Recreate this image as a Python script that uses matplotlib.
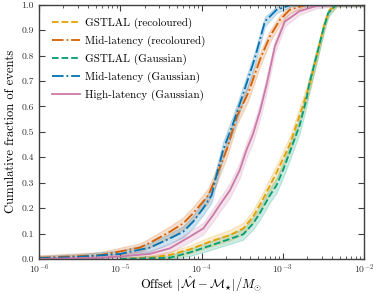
import numpy as np
import matplotlib
matplotlib.use("Agg")
import matplotlib.pyplot as plt

plt.rcParams.update({
    "font.family": "serif",
    "font.serif": ["cmr10", "DejaVu Serif"],
    "mathtext.fontset": "cm",
    "axes.formatter.use_mathtext": True,
    "axes.unicode_minus": False,
})

N_EVENTS = 380

# offsets (M_sun) and cumulative fractions
gstlal_rec_x = [1.0e-5, 2.32e-5, 4.08e-5, 7.2e-5, 1.27e-4, 2.24e-4, 3.26e-4, 4.32e-4, 5.23e-4, 6.03e-4,
                8.39e-4, 1.22e-3, 1.78e-3, 2.16e-3, 2.72e-3, 3.30e-3, 3.80e-3, 4.76e-3, 1.0e-2]
gstlal_rec_y = [0.0, 0.005, 0.016, 0.038, 0.068, 0.094, 0.12, 0.167, 0.213, 0.25,
                0.34, 0.45, 0.606, 0.69, 0.82, 0.93, 0.98, 1.0, 1.0]

mid_rec_x = [1.0e-6, 5.6e-6, 1.0e-5, 1.75e-5, 2.52e-5, 4.08e-5, 5.95e-5, 7.9e-5, 1.05e-4, 1.21e-4,
             1.55e-4, 2.04e-4, 2.72e-4, 3.75e-4, 5.23e-4, 6.94e-4, 9.2e-4, 1.22e-3, 1.96e-3, 1.0e-2]
mid_rec_y = [0.005, 0.015, 0.03, 0.045, 0.07, 0.107, 0.14, 0.18, 0.226, 0.25,
             0.33, 0.43, 0.56, 0.652, 0.783, 0.875, 0.94, 0.98, 1.0, 1.0]

gstlal_gau_x = [1.0e-5, 4.08e-5, 7.2e-5, 1.27e-4, 2.24e-4, 3.26e-4, 4.32e-4, 5.23e-4, 6.94e-4, 8.39e-4,
                1.01e-3, 1.22e-3, 1.62e-3, 1.96e-3, 2.11e-3, 2.60e-3, 3.14e-3, 3.62e-3, 4.59e-3, 1.0e-2]
gstlal_gau_y = [0.0, 0.005, 0.026, 0.052, 0.079, 0.097, 0.14, 0.18, 0.25, 0.29,
                0.35, 0.42, 0.527, 0.63, 0.685, 0.797, 0.9, 0.967, 1.0, 1.0]

mid_gau_x = [1.0e-6, 3.0e-6, 1.0e-5, 2.32e-5, 4.08e-5, 5.95e-5, 7.9e-5, 1.05e-4, 1.33e-4, 1.53e-4,
             1.85e-4, 2.43e-4, 3.26e-4, 4.54e-4, 6.03e-4, 8.39e-4, 1.29e-3, 1.0e-2]
mid_gau_y = [0.003, 0.008, 0.02, 0.045, 0.081, 0.107, 0.147, 0.2, 0.25, 0.33,
             0.43, 0.53, 0.65, 0.79, 0.934, 0.98, 1.0, 1.0]

high_gau_x = [1.0e-6, 5.6e-6, 1.0e-5, 2.32e-5, 4.08e-5, 7.2e-5, 1.05e-4, 1.39e-4, 1.68e-4, 2.24e-4,
              2.96e-4, 3.59e-4, 4.29e-4, 5.23e-4, 6.32e-4, 8.0e-4, 1.06e-3, 1.62e-3, 2.60e-3, 4.37e-3, 1.0e-2]
high_gau_y = [0.0, 0.005, 0.01, 0.02, 0.042, 0.088, 0.12, 0.173, 0.213, 0.27,
              0.35, 0.43, 0.49, 0.58, 0.685, 0.836, 0.934, 0.975, 0.995, 1.0, 1.0]

labels = ["GSTLAL (recoloured)", "Mid-latency (recoloured)", "GSTLAL (Gaussian)",
          "Mid-latency (Gaussian)", "High-latency (Gaussian)"]
colors = ["#E69F00", "#D55E00", "#009E73", "#0072B2", "#CC79A7"]
styles = ["--", "-.", "--", "-.", "-"]
series = [(gstlal_rec_x, gstlal_rec_y), (mid_rec_x, mid_rec_y), (gstlal_gau_x, gstlal_gau_y),
          (mid_gau_x, mid_gau_y), (high_gau_x, high_gau_y)]

fig = plt.figure(figsize=(3.74, 2.94), dpi=100)
ax = fig.add_axes([39/374, 1 - 259/294, (364-39)/374, (259-4.7)/294])

for (x, y), lab, c, ls in zip(series, labels, colors, styles):
    x = np.asarray(x); y = np.asarray(y)
    err = np.sqrt(y * (1 - y) / N_EVENTS) + 0.006
    ax.fill_between(x, np.clip(y - err, 0, 1), np.clip(y + err, 0, 1), color=c, alpha=0.2, lw=0.8,
                    edgecolor=c)
    ax.plot(x, y, ls=ls, color=c, lw=1.3, label=lab)

ax.set_xscale("log")
ax.set_xlim(1e-6, 1e-2)
ax.set_ylim(0, 1)
ax.set_yticks(np.arange(0, 1.01, 0.1))
ax.set_yticklabels([f"{v:.1f}" for v in np.arange(0, 1.01, 0.1)])
ax.tick_params(which="both", direction="in", top=True, right=True, labelsize=7, colors="0.25",
               labelcolor="0.2")
ax.tick_params(axis="x", which="both", pad=2.5)
ax.tick_params(which="major", length=4, width=0.8)
ax.tick_params(which="minor", length=2, width=0.6)
for s in ax.spines.values():
    s.set_color("0.25")
    s.set_linewidth(1.0)

ax.set_xlabel(r"Offset $|\hat{\mathcal{M}} - \mathcal{M}_{\star}|/M_{\odot}$", fontsize=9, labelpad=-1.0)
ax.set_ylabel("Cumulative fraction of events", fontsize=9, labelpad=3)

ax.legend(loc="upper left", frameon=False, fontsize=8, handlelength=2.5, labelspacing=0.6,
          borderaxespad=0.8, handletextpad=0.4)

fig.savefig("out.png", dpi=100)
